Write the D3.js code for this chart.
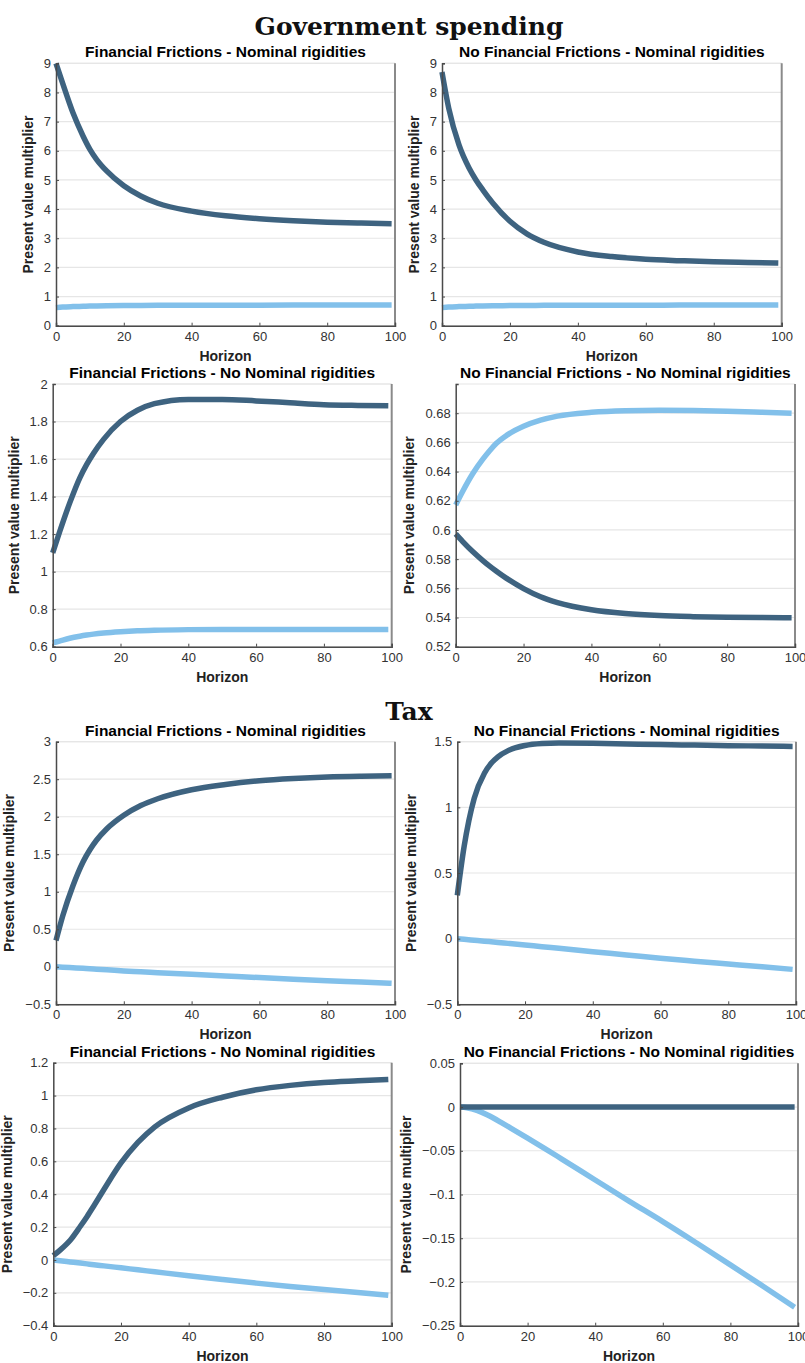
<!DOCTYPE html>
<html lang="en">
<head>
  <meta charset="UTF-8">
  <title>Present value multipliers</title>
  <script src="https://d3js.org/d3.v7.min.js"></script>
  <style>
    body { margin: 0; background: #fff; }
    svg { display: block; }
  </style>
</head>
<body>
  <div id="chart"></div>

  <script>
    // Horizons sampled for each series (same sampling for all panels)
    const horizon = [0, 2, 5, 8, 10, 12, 15, 20, 25, 30, 40, 50, 60, 70, 80, 90, 99];

    // Government spending - Financial Frictions - Nominal rigidities
    const gFfNrDark  = [9.0, 8.3, 7.3, 6.5, 6.05, 5.7, 5.3, 4.8, 4.45, 4.2, 3.93, 3.77, 3.67, 3.6, 3.55, 3.52, 3.5];
    const gFfNrLight = [0.62, 0.64, 0.655, 0.665, 0.672, 0.677, 0.683, 0.69, 0.695, 0.698, 0.702, 0.704, 0.705, 0.706, 0.707, 0.708, 0.708];

    // Government spending - No Financial Frictions - Nominal rigidities
    const gNffNrDark  = [8.7, 7.45, 6.2, 5.4, 5.0, 4.66, 4.2, 3.58, 3.15, 2.86, 2.53, 2.37, 2.28, 2.23, 2.19, 2.17, 2.15];
    const gNffNrLight = [0.62, 0.64, 0.655, 0.665, 0.672, 0.677, 0.683, 0.69, 0.695, 0.698, 0.702, 0.704, 0.705, 0.706, 0.707, 0.708, 0.708];

    // Government spending - Financial Frictions - No Nominal rigidities
    const gFfNnrDark  = [1.1, 1.21, 1.365, 1.5, 1.57, 1.63, 1.705, 1.8, 1.86, 1.895, 1.918, 1.918, 1.91, 1.9, 1.89, 1.886, 1.884];
    const gFfNnrLight = [0.62, 0.63, 0.645, 0.656, 0.662, 0.667, 0.673, 0.68, 0.685, 0.688, 0.691, 0.692, 0.692, 0.692, 0.692, 0.692, 0.692];

    // Government spending - No Financial Frictions - No Nominal rigidities
    const gNffNnrDark  = [0.5973, 0.5922, 0.5852, 0.579, 0.5752, 0.5717, 0.5668, 0.5598, 0.5542, 0.5502, 0.5453, 0.5427, 0.5413, 0.5406, 0.5402, 0.54, 0.5399];
    const gNffNnrLight = [0.6171, 0.6262, 0.6385, 0.6485, 0.6543, 0.6594, 0.6648, 0.671, 0.6752, 0.678, 0.6806, 0.6817, 0.682, 0.6818, 0.6814, 0.6807, 0.68];

    // Tax - Financial Frictions - Nominal rigidities
    const tFfNrDark  = [0.35, 0.68, 1.08, 1.4, 1.56, 1.69, 1.84, 2.02, 2.15, 2.24, 2.36, 2.43, 2.48, 2.51, 2.53, 2.54, 2.545];
    const tFfNrLight = [0.0, -0.005, -0.013, -0.021, -0.027, -0.032, -0.04, -0.055, -0.066, -0.078, -0.1, -0.122, -0.144, -0.165, -0.185, -0.203, -0.22];

    // Tax - No Financial Frictions - Nominal rigidities
    const tNffNrDark  = [0.33, 0.7, 1.07, 1.26, 1.335, 1.385, 1.432, 1.471, 1.486, 1.49, 1.488, 1.483, 1.478, 1.474, 1.47, 1.467, 1.464];
    const tNffNrLight = [0.0, -0.005, -0.012, -0.019, -0.024, -0.029, -0.036, -0.048, -0.061, -0.073, -0.099, -0.124, -0.15, -0.172, -0.193, -0.214, -0.234];

    // Tax - Financial Frictions - No Nominal rigidities
    const tFfNnrDark  = [0.026, 0.06, 0.12, 0.205, 0.265, 0.33, 0.43, 0.59, 0.715, 0.81, 0.925, 0.99, 1.035, 1.062, 1.08, 1.09, 1.098];
    const tFfNnrLight = [0.0, -0.005, -0.012, -0.019, -0.024, -0.029, -0.036, -0.048, -0.06, -0.072, -0.096, -0.119, -0.141, -0.161, -0.18, -0.198, -0.215];

    // Tax - No Financial Frictions - No Nominal rigidities
    const tNffNnrDark  = [0, 0, 0, 0, 0, 0, 0, 0, 0, 0, 0, 0, 0, 0, 0, 0, 0];
    const tNffNnrLight = [0, -0.0008, -0.0038, -0.0088, -0.0128, -0.0172, -0.024, -0.0355, -0.0472, -0.0592, -0.0834, -0.1075, -0.131, -0.1555, -0.1805, -0.2058, -0.229];

    // Y axis ranges and ticks
    const yDomains = [[0, 9], [0, 9], [0.6, 2], [0.52, 0.7], [-0.5, 3], [-0.5, 1.5], [-0.4, 1.2], [-0.25, 0.05]];
    const yTicks = [
      [0, 1, 2, 3, 4, 5, 6, 7, 8, 9],
      [0, 1, 2, 3, 4, 5, 6, 7, 8, 9],
      [0.6, 0.8, 1, 1.2, 1.4, 1.6, 1.8, 2],
      [0.52, 0.54, 0.56, 0.58, 0.6, 0.62, 0.64, 0.66, 0.68],
      [-0.5, 0, 0.5, 1, 1.5, 2, 2.5, 3],
      [-0.5, 0, 0.5, 1, 1.5],
      [-0.4, -0.2, 0, 0.2, 0.4, 0.6, 0.8, 1, 1.2],
      [-0.25, -0.2, -0.15, -0.1, -0.05, 0, 0.05]
    ];
    const xTicks = [0, 20, 40, 60, 80, 100];

    const panelTitles = [
      'Financial Frictions - Nominal rigidities',
      'No Financial Frictions - Nominal rigidities',
      'Financial Frictions - No Nominal rigidities',
      'No Financial Frictions - No Nominal rigidities',
      'Financial Frictions - Nominal rigidities',
      'No Financial Frictions - Nominal rigidities',
      'Financial Frictions - No Nominal rigidities',
      'No Financial Frictions - No Nominal rigidities'
    ];
    const darkSeries = [gFfNrDark, gNffNrDark, gFfNnrDark, gNffNnrDark, tFfNrDark, tNffNrDark, tFfNnrDark, tNffNnrDark];
    const lightSeries = [gFfNrLight, gNffNrLight, gFfNnrLight, gNffNnrLight, tFfNrLight, tNffNrLight, tFfNnrLight, tNffNnrLight];

    // Plot boxes (left, right, top, bottom) in page pixels
    const boxes = [
      [56, 395, 63.3, 325.7],
      [442, 781.7, 63.3, 325.7],
      [52.7, 391.7, 384, 646.7],
      [455.7, 795, 384, 646.7],
      [56, 395, 741.7, 1004.3],
      [457.3, 796, 741.7, 1004.3],
      [53.3, 391.7, 1062.7, 1325.7],
      [460, 798, 1063.3, 1325.7]
    ];

    const darkColor = '#3e6380';
    const lightColor = '#82c0ea';
    const sans = 'Liberation Sans, Arial, sans-serif';

    function renderFigure() {
      const svg = d3.select('#chart')
        .append('svg')
        .attr('width', 805)
        .attr('height', 1363);

      // Section headings
      svg.append('text')
        .attr('x', 409).attr('y', 35)
        .attr('text-anchor', 'middle')
        .attr('font-family', 'DejaVu Serif, serif')
        .attr('font-weight', 'bold')
        .attr('font-size', '25px')
        .attr('fill', '#111')
        .text('Government spending');

      svg.append('text')
        .attr('x', 409).attr('y', 720)
        .attr('text-anchor', 'middle')
        .attr('font-family', 'DejaVu Serif, serif')
        .attr('font-weight', 'bold')
        .attr('font-size', '25px')
        .attr('fill', '#111')
        .text('Tax');

      boxes.forEach((b, i) => {
        const [left, right, top, bottom] = b;
        const x = d3.scaleLinear().domain([0, 100]).range([left, right]);
        const y = d3.scaleLinear().domain(yDomains[i]).range([bottom, top]);
        const g = svg.append('g');

        // Horizontal grid
        g.append('g')
          .selectAll('line')
          .data(yTicks[i].concat([yDomains[i][1]]))
          .join('line')
          .attr('x1', left).attr('x2', right)
          .attr('y1', d => y(d)).attr('y2', d => y(d))
          .attr('stroke', '#e6e6e6')
          .attr('stroke-width', 1.2);

        // Right border
        g.append('line')
          .attr('x1', right).attr('x2', right)
          .attr('y1', top).attr('y2', bottom)
          .attr('stroke', '#8a8a8a')
          .attr('stroke-width', 2);

        // Lines
        const line = d3.line()
          .x((d, k) => x(horizon[k]))
          .y(d => y(d))
          .curve(d3.curveMonotoneX);

        g.append('path')
          .datum(lightSeries[i])
          .attr('d', line)
          .attr('fill', 'none')
          .attr('stroke', lightColor)
          .attr('stroke-width', 5.5);

        g.append('path')
          .datum(darkSeries[i])
          .attr('d', line)
          .attr('fill', 'none')
          .attr('stroke', darkColor)
          .attr('stroke-width', 5.5);

        // Axes
        const xAxis = d3.axisBottom(x).tickValues(xTicks).tickSize(-3).tickPadding(6)
          .tickFormat(d3.format('d'));
        const yAxis = d3.axisLeft(y).tickValues(yTicks[i]).tickSize(-3).tickPadding(5)
          .tickFormat(d => d3.format('~g')(+d.toFixed(2)));

        const gx = g.append('g')
          .attr('transform', `translate(0,${bottom})`)
          .call(xAxis);
        const gy = g.append('g')
          .attr('transform', `translate(${left},0)`)
          .call(yAxis);

        [gx, gy].forEach(a => {
          a.select('.domain').attr('stroke', '#4a4a4a').attr('stroke-width', 1.5);
          a.selectAll('.tick line').attr('stroke', '#4a4a4a');
          a.selectAll('.tick text')
            .attr('fill', '#333')
            .attr('font-family', sans)
            .attr('font-size', '13px');
        });
        gx.selectAll('.tick text').attr('dy', '0.7em');

        // Panel title
        g.append('text')
          .attr('x', (left + right) / 2)
          .attr('y', top - 6)
          .attr('text-anchor', 'middle')
          .attr('font-family', sans)
          .attr('font-weight', 'bold')
          .attr('font-size', '15.5px')
          .attr('fill', '#000')
          .text(panelTitles[i]);

        // X label
        g.append('text')
          .attr('x', (left + right) / 2)
          .attr('y', bottom + 35)
          .attr('text-anchor', 'middle')
          .attr('font-family', sans)
          .attr('font-weight', 'bold')
          .attr('font-size', '14px')
          .attr('fill', '#222')
          .text('Horizon');

        // Y label, placed left of the widest tick label
        let minX = left;
        gy.selectAll('.tick text').each(function () {
          const bb = this.getBBox();
          const tx = left + bb.x;
          if (tx < minX) minX = tx;
        });
        const ly = (top + bottom) / 2;
        const lx = minX - 11;
        g.append('text')
          .attr('transform', `translate(${lx},${ly}) rotate(-90)`)
          .attr('text-anchor', 'middle')
          .attr('font-family', sans)
          .attr('font-weight', 'bold')
          .attr('font-size', '14px')
          .attr('fill', '#222')
          .text('Present value multiplier');
      });
    }

    document.addEventListener('DOMContentLoaded', renderFigure);
  </script>
</body>
</html>
